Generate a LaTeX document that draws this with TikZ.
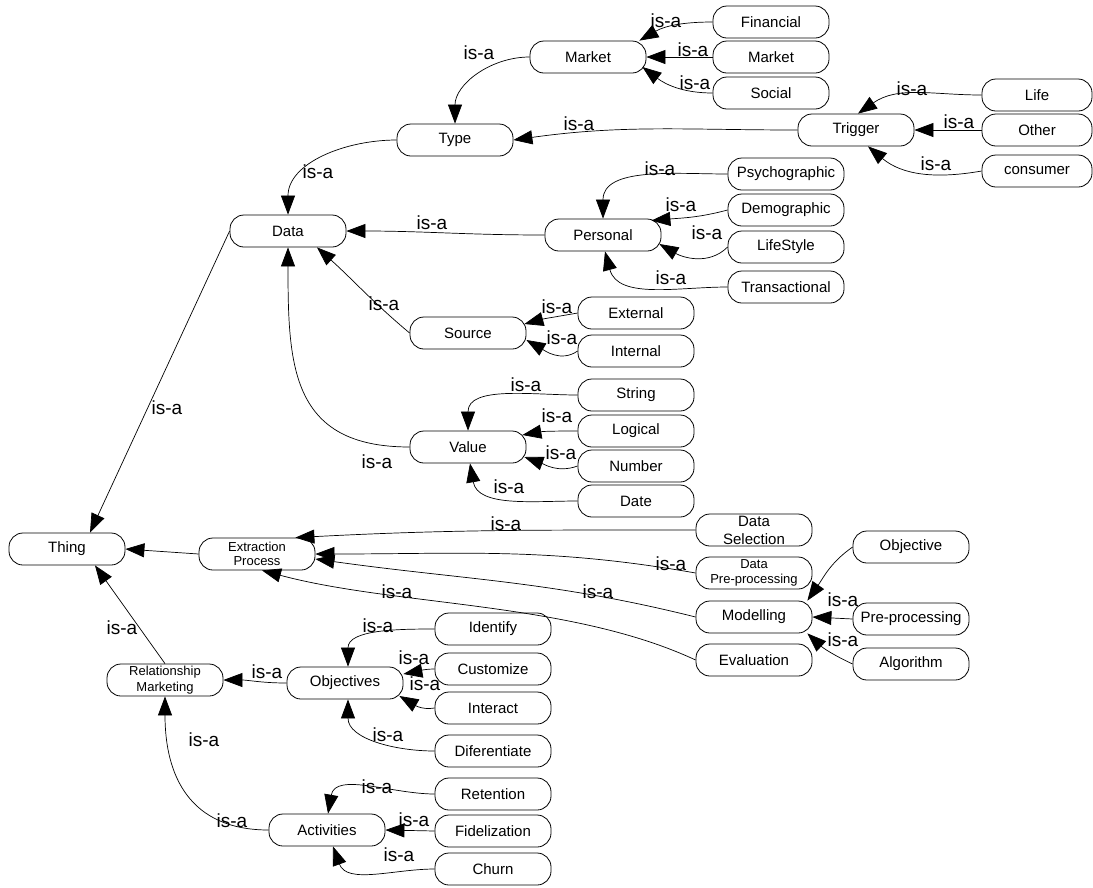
\documentclass[tikz,border=0pt]{standalone}
\usepackage{fontspec}
\setmainfont{Liberation Sans}
\usepackage{tikz}
\usetikzlibrary{arrows.meta,positioning,calc}

\newcommand\nodefont{\fontsize{15}{17}\selectfont}
\newcommand\smallfont{\fontsize{13}{14.5}\selectfont}
\newcommand\isafont{\fontsize{19}{21}\selectfont}

\begin{document}
\begin{tikzpicture}[x=1pt,y=1pt,
  concept/.style={draw, line width=0.8pt, rounded corners=14pt, minimum width=116pt,
    minimum height=32pt, inner sep=1pt, align=center, font=\nodefont},
  narrow/.style={concept, minimum width=110pt},
  small/.style={concept, font=\smallfont},
  isa/.style={line width=0.7pt, -{Triangle[length=19pt,width=14pt]}},
  lbl/.style={font=\isafont, inner sep=0pt}]
  \useasboundingbox (0,0) rectangle (1093,-887);

  % Type branch
  \node[concept] (market) at (588,-57) {Market};
  \node[concept] (fin) at (771,-22) {Financial};
  \node[concept] (mkt2) at (771,-57) {Market};
  \node[concept] (social) at (771,-93) {Social};
  \node[concept] (type) at (455,-140) {Type};
  \node[concept] (trigger) at (856,-130) {Trigger};
  \node[narrow] (life) at (1037,-95) {Life};
  \node[narrow] (other) at (1037,-130) {Other};
  \node[narrow] (consumer) at (1037,-171) {consumer};

  % Data branch
  \node[concept] (data) at (288,-231) {Data};
  \node[concept] (personal) at (603,-235) {Personal};
  \node[concept] (psycho) at (786,-174) {Psychographic};
  \node[concept] (demo) at (786,-210) {Demographic};
  \node[concept] (lifestyle) at (786,-247) {LifeStyle};
  \node[concept] (trans) at (786,-287) {Transactional};
  \node[concept] (source) at (468,-333) {Source};
  \node[concept] (ext) at (636,-313) {External};
  \node[concept] (int) at (636,-351) {Internal};
  \node[concept] (value) at (468,-447) {Value};
  \node[concept] (string) at (636,-395) {String};
  \node[concept] (logical) at (636,-431) {Logical};
  \node[concept] (number) at (636,-466) {Number};
  \node[concept] (date) at (636,-501) {Date};

  % Thing and extraction process
  \node[concept] (thing) at (67,-549) {Thing};
  \node[small] (extr) at (257,-554) {Extraction\\Process};
  \node[concept, font=\fontsize{15}{18}\selectfont] (dsel) at (754,-530) {Data\\Selection};
  \node[small] (dpre) at (754,-573) {Data\\Pre-processing};
  \node[concept] (model) at (754,-617) {Modelling};
  \node[concept] (eval) at (754,-660) {Evaluation};
  \node[concept] (objv) at (911,-547) {Objective};
  \node[concept] (prep) at (911,-619) {Pre-processing};
  \node[concept] (algo) at (911,-664) {Algorithm};

  % Relationship marketing
  \node[small, font=\fontsize{13}{16}\selectfont] (relmk) at (165,-680) {Relationship\\Marketing};
  \node[concept] (objs) at (345,-683) {Objectives};
  \node[concept] (ident) at (493,-629) {Identify};
  \node[concept] (custom) at (493,-669) {Customize};
  \node[concept] (interact) at (493,-708) {Interact};
  \node[concept] (difer) at (493,-751) {Diferentiate};
  \node[concept] (activ) at (327,-830) {Activities};
  \node[concept] (reten) at (493,-794) {Retention};
  \node[concept] (fidel) at (493,-831) {Fidelization};
  \node[concept] (churn) at (493,-869) {Churn};

  % is-a links, type branch
  \draw[isa] (fin.west) to[out=180,in=30] ([xshift=-7pt]market.north east);
  \draw[isa] (mkt2.west) -- (market.east);
  \draw[isa] (social.west) to[out=180,in=-37] ([xshift=-4pt,yshift=-10pt]market.east);
  \draw[isa] (market.west) to[out=180,in=90] (type.north);
  \draw[isa] (trigger.west) to[out=180,in=8] (type.east);
  \draw[isa] (life.west) to[out=180,in=35] ([xshift=2pt]trigger.north);
  \draw[isa] (other.west) -- (trigger.east);
  \draw[isa] (consumer.west) to[out=190,in=-40] ([xshift=12pt]trigger.south);
  \draw[isa] (type.west) to[out=180,in=90] (data.north);

  % is-a links, data branch
  \draw[isa] (psycho.west) to[out=180,in=90] (personal.north);
  \draw[isa] (demo.west) to[out=195,in=5] ([xshift=-10pt,yshift=-2pt]personal.north east);
  \draw[isa] (lifestyle.west) to[out=225,in=-30] ([xshift=-2pt,yshift=-9pt]personal.east);
  \draw[isa] (trans.west) to[out=180,in=-75] ([xshift=2pt]personal.south);
  \draw[isa] (personal.west) to[out=180,in=0] (data.east);
  \draw[isa] (source.west) to[out=140,in=-42] ([xshift=29pt]data.south);
  \draw[isa] (ext.west) to[out=190,in=15] ([xshift=-2pt,yshift=9pt]source.east);
  \draw[isa] (int.west) to[out=215,in=-30] ([yshift=-7pt]source.east);
  \draw[isa] (value.west) to[out=180,in=270,looseness=1.3] (data.south);
  \draw[isa] (string.west) to[out=180,in=90] (value.north);
  \draw[isa] (logical.west) to[out=180,in=10] ([xshift=-4pt,yshift=12pt]value.east);
  \draw[isa] (number.west) to[out=200,in=-20] ([xshift=-2pt,yshift=-10pt]value.east);
  \draw[isa] (date.west) to[out=180,in=-80] ([xshift=2pt]value.south);

  % is-a links, thing and extraction
  \draw[isa] (data.west) -- ([xshift=23pt]thing.north);
  \draw[isa] (extr.west) -- (thing.east);
  \draw[isa] (relmk.north) -- ([xshift=28pt]thing.south);
  \draw[isa] (dsel.west) to[out=180,in=3] ([xshift=-20pt]extr.north east);
  \draw[isa] (dpre.west) to[out=170,in=0] (extr.east);
  \draw[isa] (model.west) to[out=166,in=-8] ([yshift=-5pt]extr.east);
  \draw[isa] (eval.west) to[out=155,in=-15,looseness=0.8] ([xshift=5pt]extr.south);
  \draw[isa] (objv.west) to[out=215,in=55] ([xshift=-5pt]model.north east);
  \draw[isa] (prep.west) -- (model.east);
  \draw[isa] (algo.west) to[out=155,in=-43] ([xshift=-5pt]model.south east);

  % is-a links, relationship marketing
  \draw[isa] (objs.west) to[out=180,in=0] (relmk.east);
  \draw[isa] (activ.west) to[out=180,in=270,looseness=1.2] (relmk.south);
  \draw[isa] (ident.west) to[out=180,in=90] ([xshift=3pt]objs.north);
  \draw[isa] (custom.west) to[out=180,in=10] ([yshift=9pt]objs.east);
  \draw[isa] (interact.west) to[out=190,in=-30] ([xshift=-4pt,yshift=-13pt]objs.east);
  \draw[isa] (difer.west) to[out=180,in=-90] ([xshift=3pt]objs.south);
  \draw[isa] (reten.west) to[out=180,in=80] ([xshift=1pt]activ.north);
  \draw[isa] (fidel.west) -- (activ.east);
  \draw[isa] (churn.west) to[out=180,in=-70] ([xshift=6pt]activ.south);

  % is-a labels
  \foreach \x/\y [count=\i] in {666/21, 693/50, 695/83, 479/53, 579/124, 912/89,
      959/122, 936/164, 318/172, 660/169, 681/205, 707/233, 671/278, 432/223,
      384/304, 557/307, 562/338, 377/462, 526/385, 557/416, 561/453, 509/487,
      167/408, 506/524, 671/564, 598/592, 397/592, 843/600, 843/640, 122/628,
      267/672, 378/626, 414/658, 425/684, 388/735, 204/740, 232/821, 377/787,
      414/820, 399/855}
    \node[lbl] (isa\i) at (\x,-\y) {is-a};
\end{tikzpicture}
\end{document}
